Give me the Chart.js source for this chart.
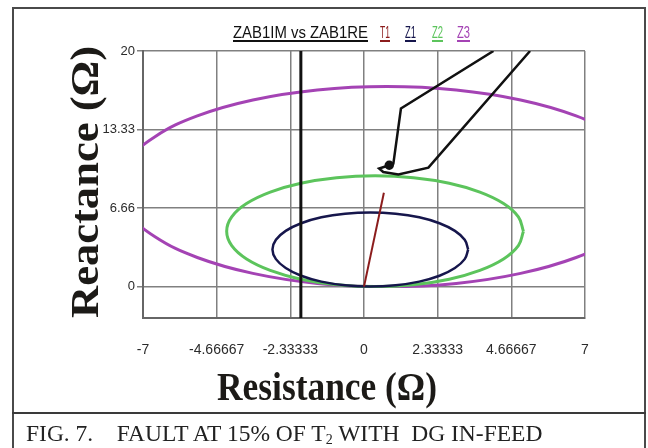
<!DOCTYPE html>
<html>
<head>
<meta charset="utf-8">
<script src="https://cdn.jsdelivr.net/npm/chart.js@4.4.1/dist/chart.umd.min.js"></script>
<style>
  html, body { margin: 0; padding: 0; background: #fff; }
  body { width: 648px; height: 448px; position: relative; overflow: hidden; }
  #zab1 { position: absolute; left: 0; top: 0; }
  #frame { position: absolute; left: 12px; top: 7px; width: 634px; height: 460px; box-sizing: border-box; border: 2px solid #4a4a4a; pointer-events: none; }
  #rule { position: absolute; left: 12px; top: 412px; width: 634px; height: 2px; background: #3a3a3a; }
  #caption { position: absolute; left: 26px; top: 421px; font: 23.5px 'Liberation Serif', 'Times New Roman', serif; color: #222; line-height: 24px; white-space: pre; }
  #caption sub { font-size: 14px; vertical-align: -3px; line-height: 0; }
</style>
</head>
<body>
<canvas id="zab1" width="648" height="448"></canvas>
<div id="frame"></div>
<div id="rule"></div>
<div id="caption">FIG. 7.    FAULT AT 15% OF T<sub>2</sub> WITH  DG IN-FEED</div>
<script>
// axis ticks
const xTickValues = [-7, -4.66667, -2.33333, 0, 2.33333, 4.66667, 7];
const xTickLabels = ['-7', '-4.66667', '-2.33333', '0', '2.33333', '4.66667', '7'];
const yTickValues = [0, 6.66, 13.33, 20];
const yTickLabels = ['0', '6.66', '13.33', '20'];

const seriesNames = ['ZAB1IM vs ZAB1RE', 'T1', 'Z1', 'Z2', 'Z3'];

// impedance trajectory (R, X)
const trajRe = [4.10, 1.17, 0.93, 0.80, 0.48, 0.61, 1.09, 2.04, 5.26];
const trajIm = [20.0, 15.12, 10.44, 10.30, 10.02, 9.73, 9.51, 10.10, 20.0];
// vertical trace before fault
const preRe = [-2.0, -2.0];
const preIm = [-2.6667, 20];

// line impedance T1
const t1Re = [0, 0.63];
const t1Im = [0, 7.97];

// mho zones, read round the curves
const z1Re = [3.30, 3.19, 2.88, 2.39, 1.75, 1.00, 0.20, -0.60, -1.35, -1.99, -2.48, -2.79, -2.90, -2.79, -2.48, -1.99, -1.35, -0.60, 0.20, 1.00, 1.75, 2.39, 2.88, 3.19, 3.30];
const z1Im = [3.15, 3.97, 4.73, 5.38, 5.88, 6.19, 6.30, 6.19, 5.88, 5.38, 4.73, 3.97, 3.15, 2.33, 1.58, 0.92, 0.42, 0.11, 0.00, 0.11, 0.42, 0.92, 1.58, 2.33, 3.15];

const z2Re = [5.05, 4.89, 4.42, 3.67, 2.70, 1.57, 0.35, -0.87, -2.00, -2.97, -3.72, -4.19, -4.35, -4.19, -3.72, -2.97, -2.00, -0.87, 0.35, 1.57, 2.70, 3.67, 4.42, 4.89, 5.05];
const z2Im = [4.70, 5.92, 7.05, 8.02, 8.77, 9.24, 9.40, 9.24, 8.77, 8.02, 7.05, 5.92, 4.70, 3.48, 2.35, 1.38, 0.63, 0.16, 0.00, 0.16, 0.63, 1.38, 2.35, 3.48, 4.70];

const z3Re = [9.20, 8.91, 8.06, 6.72, 4.96, 2.92, 0.72, -1.48, -3.52, -5.28, -6.62, -7.47, -7.76, -7.47, -6.62, -5.28, -3.52, -1.48, 0.72, 2.92, 4.96, 6.72, 8.06, 8.91, 9.20];
const z3Im = [8.48, 10.68, 12.73, 14.49, 15.84, 16.69, 16.98, 16.69, 15.84, 14.49, 12.73, 10.68, 8.48, 6.28, 4.23, 2.47, 1.12, 0.27, 0.00, 0.27, 1.12, 2.47, 4.23, 6.28, 8.48];

const colors = ['#111111', '#8b1c1c', '#16164c', '#5cc45c', '#a443b4'];

function pts(re, im) {
  return re.map((r, i) => ({ x: r, y: im[i] }));
}

const sans = '"Liberation Sans", Arial, sans-serif';
const serif = '"Liberation Serif", "Times New Roman", serif';

// header labels with underlines, and the two axis titles
const headerPos = [[233, 135], [380, 10], [405, 11], [432, 11], [457, 13]];

function fitText(ctx, text, width) {
  const w = ctx.measureText(text).width;
  ctx.scale(width / w, 1);
  ctx.fillText(text, 0, 0);
}

const figureText = {
  id: 'figureText',
  afterDraw(chart) {
    const ctx = chart.ctx;
    ctx.save();
    ctx.textBaseline = 'alphabetic';
    ctx.textAlign = 'left';
    ctx.font = '16px ' + sans;
    seriesNames.forEach((name, i) => {
      const [x, w] = headerPos[i];
      ctx.fillStyle = colors[i];
      ctx.save();
      ctx.translate(x, 38);
      fitText(ctx, name, w);
      ctx.restore();
      ctx.fillRect(x, 40, w, 2);
    });

    ctx.fillStyle = '#1c1a17';
    ctx.font = 'bold 40px ' + serif;
    ctx.save();
    ctx.translate(217, 400);
    fitText(ctx, 'Resistance (Ω)', 220);
    ctx.restore();

    ctx.save();
    ctx.translate(98, 318);
    ctx.rotate(-Math.PI / 2);
    fitText(ctx, 'Reactance (Ω)', 272);
    ctx.restore();
    ctx.restore();
  }
};

const gridColor = '#808080';

const config = {
  type: 'scatter',
  data: {
    datasets: [
      {
        label: seriesNames[0],
        data: pts(trajRe, trajIm),
        showLine: true,
        borderColor: colors[0],
        backgroundColor: colors[0],
        borderWidth: 2.5,
        pointRadius: c => (c.dataIndex === 3 ? 3.5 : 0),
        tension: 0
      },
      {
        label: seriesNames[0],
        data: pts(preRe, preIm),
        showLine: true,
        borderColor: colors[0],
        borderWidth: 3,
        pointRadius: 0
      },
      {
        label: seriesNames[1],
        data: pts(t1Re, t1Im),
        showLine: true,
        borderColor: colors[1],
        borderWidth: 2,
        pointRadius: 0
      },
      {
        label: seriesNames[2],
        data: pts(z1Re, z1Im),
        showLine: true,
        borderColor: colors[2],
        borderWidth: 2.5,
        pointRadius: 0,
        tension: 0.4
      },
      {
        label: seriesNames[3],
        data: pts(z2Re, z2Im),
        showLine: true,
        borderColor: colors[3],
        borderWidth: 3,
        pointRadius: 0,
        tension: 0.4
      },
      {
        label: seriesNames[4],
        data: pts(z3Re, z3Im),
        showLine: true,
        borderColor: colors[4],
        borderWidth: 3,
        pointRadius: 0,
        tension: 0.4
      }
    ]
  },
  options: {
    responsive: false,
    animation: false,
    events: [],
    layout: { padding: { top: 51, right: 63, bottom: 0, left: 0 } },
    plugins: {
      legend: { display: false },
      tooltip: { enabled: false }
    },
    scales: {
      x: {
        type: 'linear',
        min: -7,
        max: 7,
        afterBuildTicks: s => { s.ticks = xTickValues.map(v => ({ value: v })); },
        afterFit: s => { s.height = 130; },
        grid: { color: gridColor, lineWidth: 1.5, drawTicks: false },
        border: { color: '#666', width: 2 },
        ticks: {
          padding: 24,
          color: '#2b2b2b',
          font: { family: sans, size: 14 },
          maxRotation: 0,
          autoSkip: false,
          callback: (v, i) => xTickLabels[i]
        }
      },
      y: {
        type: 'linear',
        min: -2.6667,
        max: 20,
        afterBuildTicks: s => { s.ticks = yTickValues.map(v => ({ value: v })); },
        afterFit: s => { s.width = 143; },
        grid: { color: gridColor, lineWidth: 1.5, tickLength: 6 },
        border: { color: '#666', width: 2 },
        ticks: {
          padding: 2,
          color: '#2b2b2b',
          font: { family: sans, size: 13 },
          autoSkip: false,
          callback: (v, i) => yTickLabels[i]
        }
      }
    }
  },
  plugins: [figureText]
};

const zChart = new Chart(document.getElementById('zab1'), config);
</script>
</body>
</html>
